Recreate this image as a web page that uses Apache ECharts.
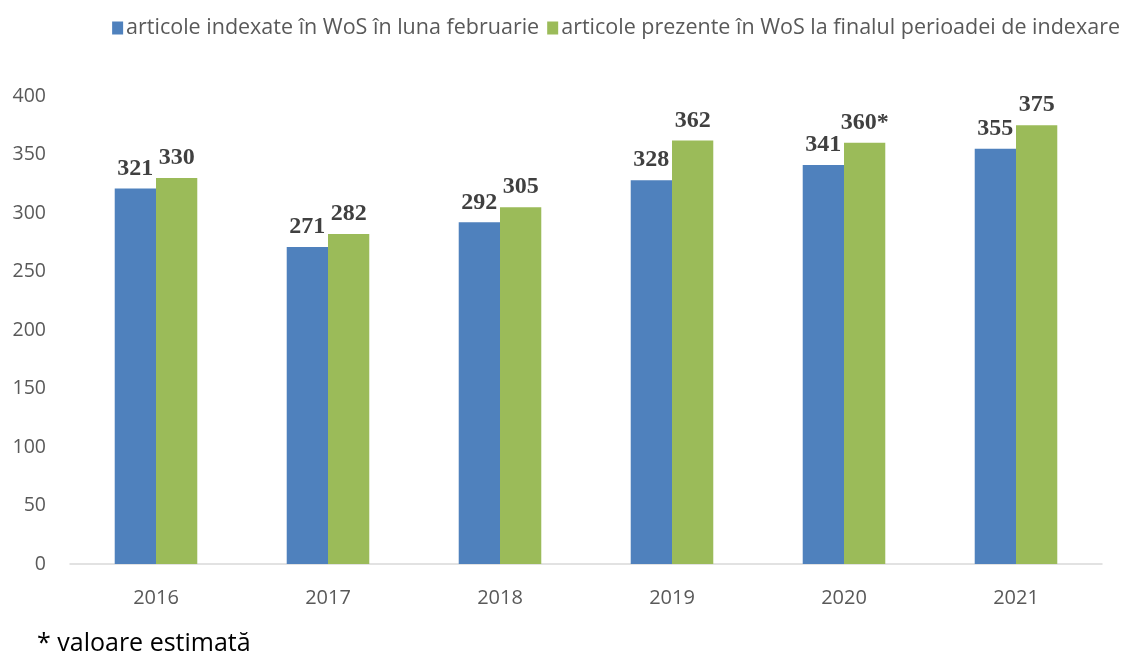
<!DOCTYPE html>
<html><head><meta charset="utf-8">
<script src="https://cdn.jsdelivr.net/npm/echarts@6/dist/echarts.min.js"></script>
<style>html,body{margin:0;padding:0;background:#fff}#c{width:1127px;height:654px}</style>
</head><body><div id="c"></div>
<script>
const categories = ['2016','2017','2018','2019','2020','2021'];
const seriesNames = ['articole indexate în WoS în luna februarie','articole prezente în WoS la finalul perioadei de indexare'];
const indexedFeb = [321, 271, 292, 328, 341, 355];
const presentEnd = [330, 282, 305, 362, 360, 375];
const presentLabels = ['330','282','305','362','360*','375'];
const yTicks = [0,50,100,150,200,250,300,350,400];
const footnote = '* valoare estimată';

const chart = echarts.init(document.getElementById('c'));
const labelStyle = {show:true, position:'top', distance:8, fontFamily:'Liberation Serif', fontWeight:'bold', fontSize:24, color:'#404040'};
chart.setOption({
  animation:false,
  legend:{top:12, right:2, icon:'rect', itemWidth:11, itemHeight:13, itemGap:8,
    textStyle:{fontFamily:'Open Sans', fontSize:21.5, color:'#595959', padding:[0,0,0,-2]},
    data:seriesNames},
  grid:{left:70, right:25, top:96, bottom:90},
  xAxis:{type:'category', data:categories,
    axisLine:{lineStyle:{color:'#d9d9d9', width:1.5}}, axisTick:{show:false},
    axisLabel:{fontFamily:'Open Sans', fontSize:20, color:'#595959', margin:24}},
  yAxis:{type:'value', min:yTicks[0], max:yTicks[yTicks.length-1], interval:50,
    axisLine:{show:false}, axisTick:{show:false}, splitLine:{show:false},
    axisLabel:{fontFamily:'Open Sans', fontSize:19.5, color:'#595959', margin:24}},
  graphic:[{type:'text', left:37, top:631, style:{text:footnote, fontFamily:'Open Sans', fontSize:25, fill:'#000'}}],
  series:[
    {name:seriesNames[0], type:'bar', data:indexedFeb, barGap:'0%', barCategoryGap:'52%',
     itemStyle:{color:'#4f81bd'}, label:labelStyle},
    {name:seriesNames[1], type:'bar', data:presentEnd, itemStyle:{color:'#9bbb59'},
     label:Object.assign({}, labelStyle, {formatter:p=>presentLabels[p.dataIndex]})}
  ]
});
</script></body></html>
